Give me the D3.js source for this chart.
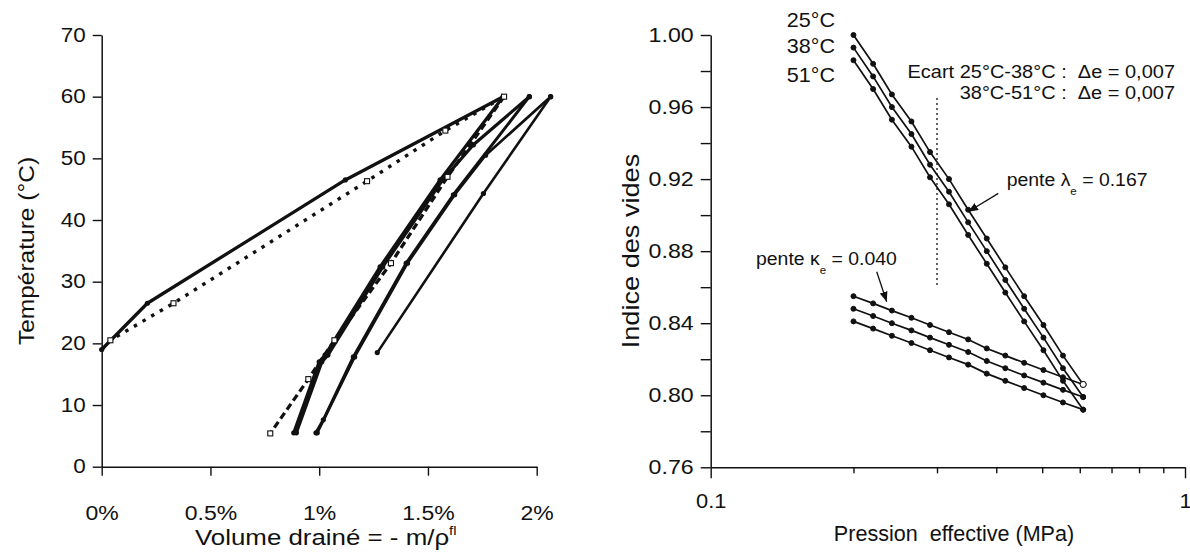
<!DOCTYPE html>
<html><head><meta charset="utf-8">
<script src="https://cdn.jsdelivr.net/npm/d3@7"></script>
<style>
html,body{margin:0;padding:0;background:#fff;}
svg text{font-family:"Liberation Sans",Arial,Helvetica,sans-serif;fill:#111;white-space:pre;}
</style></head><body>
<svg id="c" width="1190" height="553"></svg>
<script>
// ===== Left chart: Volume drainé (%) vs Température (°C) =====
const xTicksLeft = [0, 0.5, 1, 1.5, 2];
const xTickLabelsLeft = ["0%", "0.5%", "1%", "1.5%", "2%"];
const yTicksLeft = [0, 10, 20, 30, 40, 50, 60, 70];

// Test A (solid lines, filled dots)
const heat1V = [0, 0.21, 1.12, 1.846];
const heat1T = [19, 26.5, 46.5, 60];
const cool1V = [1.846, 1.556, 1.28, 1.027, 1.0, 0.883];
const cool1T = [60, 46.5, 32.4, 18.1, 17, 5.5];
const heat2V = [0.895, 1.012, 1.04, 1.292, 1.568, 1.709, 1.966];
const heat2T = [5.5, 17, 18.1, 32.4, 46.5, 52.2, 60];
const cool2V = [1.966, 1.617, 1.40, 1.157, 1.019, 0.985];
const cool2T = [60, 44.1, 33, 17.8, 7.6, 5.5];
const heat3V = [0.991, 1.163, 1.406, 1.623, 1.765, 2.064];
const heat3T = [5.5, 17.8, 33, 44.1, 50.5, 60];
const cool3V = [2.064, 1.755, 1.267];
const cool3T = [60, 44.3, 18.5];
// Test B (dotted heating, dashed cooling, square markers)
const heatBV = [0, 0.04, 0.33, 1.22, 1.58, 1.85];
const heatBT = [19, 20.5, 26.5, 46.3, 54.5, 60];
const coolBV = [1.85, 1.59, 1.33, 1.07, 0.95, 0.775];
const coolBT = [60, 47, 33, 20.5, 14.2, 5.4];

// ===== Right chart: Indice des vides vs Pression effective (MPa) =====
const pTicks = [0.1, 0.2, 0.3, 0.4, 0.5, 0.6, 0.7, 0.8, 0.9, 1];
const pTickLabels = ["0.1", "", "", "", "", "", "", "", "", "1"];
const eTicks = [0.76, 0.78, 0.80, 0.82, 0.84, 0.86, 0.88, 0.90, 0.92, 0.94, 0.96, 0.98, 1.00];
const eTickLabels = ["0.76", "", "0.80", "", "0.84", "", "0.88", "", "0.92", "", "0.96", "", "1.00"];
const pressure = [0.200, 0.220, 0.241, 0.265, 0.290, 0.318, 0.349, 0.382, 0.418, 0.458, 0.503, 0.553, 0.610];
const load25 = [1.000, 0.984, 0.967, 0.952, 0.935, 0.920, 0.903, 0.887, 0.871, 0.855, 0.839, 0.822, 0.806];
const load38 = [0.993, 0.977, 0.960, 0.945, 0.928, 0.913, 0.896, 0.880, 0.864, 0.848, 0.832, 0.815, 0.799];
const load51 = [0.986, 0.970, 0.953, 0.938, 0.921, 0.906, 0.889, 0.873, 0.857, 0.841, 0.825, 0.808, 0.792];
const unload25 = [0.855, 0.851, 0.847, 0.843, 0.839, 0.835, 0.831, 0.826, 0.822, 0.818, 0.814, 0.810, 0.806];
const unload38 = [0.848, 0.844, 0.840, 0.836, 0.832, 0.828, 0.824, 0.819, 0.815, 0.811, 0.807, 0.803, 0.799];
const unload51 = [0.841, 0.837, 0.833, 0.829, 0.825, 0.821, 0.817, 0.812, 0.808, 0.804, 0.800, 0.796, 0.792];
const tempLabels = ["25°C", "38°C", "51°C"];
const dividerP = 0.3, dividerE = [0.965, 0.861];
const arrowLambda = [[0.404, 0.9121], [0.349, 0.9019]];
const arrowKappa = [[0.2239, 0.8686], [0.235, 0.8519]];

const svg = d3.select("#c");
svg.append("rect").attr("width", 1190).attr("height", 553).attr("fill", "#fff");
const defs = svg.append("defs");
defs.append("marker").attr("id", "ah").attr("viewBox", "0 0 10 8").attr("refX", 10).attr("refY", 4)
  .attr("markerWidth", 10).attr("markerHeight", 8).attr("markerUnits", "userSpaceOnUse").attr("orient", "auto")
  .append("path").attr("d", "M0,0 L10,4 L0,8 Z").attr("fill", "#111");

function stretch(sel, k) {
  sel.each(function () {
    const L = this.getComputedTextLength();
    if (L > 0) { this.setAttribute("textLength", L * k); this.setAttribute("lengthAdjust", "spacingAndGlyphs"); }
  });
}
function label(x, y, anchor, size, k, parts, rot) {
  const t = svg.append("text")
    .attr("transform", `translate(${x},${y})${rot ? " rotate(-90)" : ""} scale(${k},1)`)
    .attr("text-anchor", anchor).style("font-size", size + "px");
  parts.forEach(p => {
    const ts = t.append("tspan").text(p.t);
    if (p.dy) ts.attr("dy", p.dy);
    if (p.size) ts.style("font-size", p.size + "px");
  });
  return t;
}
function styleAxis(g, fs, k) {
  g.select(".domain").attr("stroke", "#111").attr("stroke-width", 1.5);
  g.selectAll(".tick line").attr("stroke", "#111").attr("stroke-width", 1.4);
  g.selectAll("text").style("font-size", fs + "px").attr("fill", "#111")
    .style("font-family", '"Liberation Sans",Arial,sans-serif');
  stretch(g.selectAll("text"), k);
}

// ---------- Left chart ----------
const xL = d3.scaleLinear().domain([0, 2]).range([101.7, 536.7]);
const yL = d3.scaleLinear().domain([0, 70]).range([466.7, 35]);

const gxL = svg.append("g").attr("transform", `translate(0,${yL(0)})`)
  .call(d3.axisBottom(xL).tickValues(xTicksLeft).tickFormat((d, i) => xTickLabelsLeft[i])
    .tickSize(9).tickSizeOuter(0).tickPadding(30.5));
styleAxis(gxL, 19.5, 1.18);
const gyL = svg.append("g").attr("transform", `translate(${xL(0)},0)`)
  .call(d3.axisLeft(yL).tickValues(yTicksLeft).tickSize(9).tickSizeOuter(0).tickPadding(7));
styleAxis(gyL, 19.5, 1.15);

const zip = (a, b) => a.map((v, i) => [v, b[i]]);
const lineL = d3.line().x(d => xL(d[0])).y(d => yL(d[1]));
const gL = svg.append("g").attr("fill", "none").attr("stroke", "#111");

// Test B
gL.append("path").attr("d", lineL(zip(heatBV, heatBT))).attr("stroke-width", 3.4)
  .attr("stroke-dasharray", "3.5,6.5");
gL.append("path").attr("d", lineL(zip(coolBV, coolBT))).attr("stroke-width", 3.3)
  .attr("stroke-dasharray", "7,4");
// Test A
const solid = [[heat1V, heat1T, 3.3], [cool1V, cool1T, 3.2], [heat2V, heat2T, 3.2],
  [cool2V, cool2T, 3], [heat3V, heat3T, 2.7], [cool3V, cool3T, 2.6]];
solid.forEach(([v, t, w]) => {
  gL.append("path").attr("d", lineL(zip(v, t))).attr("stroke-width", w).attr("stroke-linejoin", "round");
});
solid.forEach(([v, t]) => {
  svg.append("g").selectAll("circle").data(zip(v, t)).join("circle")
    .attr("cx", d => xL(d[0])).attr("cy", d => yL(d[1])).attr("r", 2.6).attr("fill", "#111");
});
[[heatBV, heatBT], [coolBV, coolBT]].forEach(([v, t]) => {
  svg.append("g").selectAll("rect").data(zip(v, t).slice(1)).join("rect")
    .attr("x", d => xL(d[0]) - 2.5).attr("y", d => yL(d[1]) - 2.5).attr("width", 5).attr("height", 5)
    .attr("fill", "#fff").attr("stroke", "#111").attr("stroke-width", 1.1);
});

label(34, 251, "middle", 22.5, 1.09, [{ t: "Température (°C)" }], true);
label(325.8, 545, "middle", 22.5, 1.15, [{ t: "Volume drainé = - m/ρ" }, { t: "fl", dy: -10, size: 13 }]);

// ---------- Right chart ----------
const xR = d3.scaleLog().domain([0.1, 1]).range([710.7, 1185]);
const yR = d3.scaleLinear().domain([0.76, 1.00]).range([467.3, 35]);

const gxR = svg.append("g").attr("transform", `translate(0,${yR(0.76)})`)
  .call(d3.axisBottom(xR).tickValues(pTicks).tickFormat((d, i) => pTickLabels[i])
    .tickSize(6).tickSizeOuter(0).tickPadding(20.8));
styleAxis(gxR, 19.5, 1.12);
gxR.selectAll(".tick line").filter((d, i) => pTickLabels[i] !== "").attr("y2", 11);
const gyR = svg.append("g").attr("transform", `translate(${xR(0.1)},0)`)
  .call(d3.axisLeft(yR).tickValues(eTicks).tickFormat((d, i) => eTickLabels[i])
    .tickSize(10).tickSizeOuter(0).tickPadding(7));
styleAxis(gyR, 20.5, 1.13);

const lineR = d3.line().x(d => xR(d[0])).y(d => yR(d[1]));
const seriesR = [load25, load38, load51, unload25, unload38, unload51];
seriesR.forEach(s => {
  svg.append("path").attr("d", lineR(zip(pressure, s))).attr("fill", "none")
    .attr("stroke", "#111").attr("stroke-width", 1.7);
});
seriesR.forEach((s, si) => {
  svg.append("g").selectAll("circle").data(zip(pressure, s)).join("circle")
    .attr("cx", d => xR(d[0])).attr("cy", d => yR(d[1]))
    .attr("r", (d, i) => (si % 3 === 0 && i === pressure.length - 1) ? 3 : 2.5)
    .attr("fill", (d, i) => (si % 3 === 0 && i === pressure.length - 1) ? "#fff" : "#111")
    .attr("stroke", "#111").attr("stroke-width", 1);
});

svg.append("line").attr("x1", xR(dividerP)).attr("x2", xR(dividerP))
  .attr("y1", yR(dividerE[0])).attr("y2", yR(dividerE[1]))
  .attr("stroke", "#111").attr("stroke-width", 1.3).attr("stroke-dasharray", "2,3");

[arrowLambda, arrowKappa].forEach(a => {
  svg.append("line").attr("x1", xR(a[0][0])).attr("y1", yR(a[0][1]))
    .attr("x2", xR(a[1][0])).attr("y2", yR(a[1][1]))
    .attr("stroke", "#111").attr("stroke-width", 1.3).attr("marker-end", "url(#ah)");
});

const tempY = [27.3, 53.3, 81.7];
tempLabels.forEach((t, i) => label(835, tempY[i], "end", 20, 1.08, [{ t }]));
label(1175, 78.3, "end", 18.5, 1.08, [{ t: "Ecart 25°C-38°C :  Δe = 0,007" }]);
label(1175, 99.3, "end", 18.5, 1.08, [{ t: "38°C-51°C :  Δe = 0,007" }]);
label(1006.7, 185.7, "start", 18.5, 1.05, [{ t: "pente λ" }, { t: "e", dy: 9, size: 11 }, { t: " = 0.167", dy: -9 }]);
label(756, 265, "start", 18.5, 1.05, [{ t: "pente κ" }, { t: "e", dy: 9, size: 11 }, { t: " = 0.040", dy: -9 }]);

label(639, 251, "middle", 23, 1.18, [{ t: "Indice des vides" }], true);
label(954, 541, "middle", 22, 0.98, [{ t: "Pression  effective (MPa)" }]);
</script>
</body></html>
